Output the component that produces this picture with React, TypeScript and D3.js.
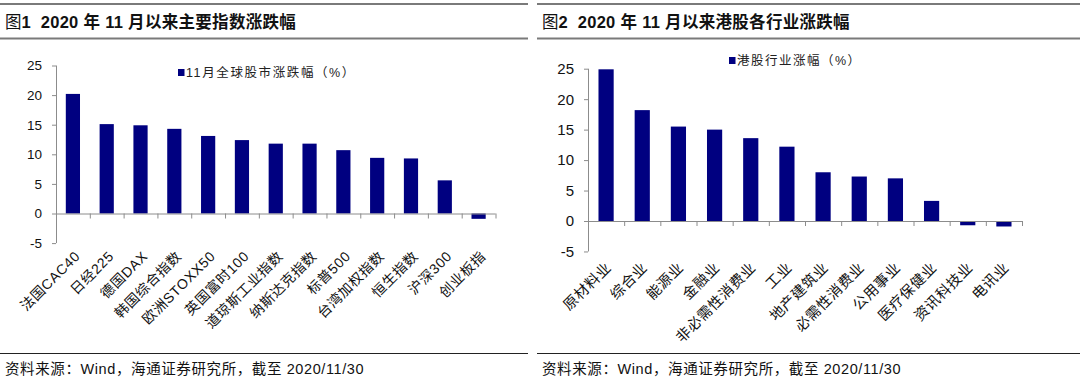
import React from "react";
import * as d3 from "d3";

const leftCategories = ["法国CAC40", "日经225", "德国DAX", "韩国综合指数", "欧洲STOXX50", "英国富时100", "道琼斯工业指数", "纳斯达克指数", "标普500", "台湾加权指数", "恒生指数", "沪深300", "创业板指"];
const leftValues = [20.2, 15.1, 14.9, 14.3, 13.1, 12.4, 11.8, 11.8, 10.7, 9.4, 9.3, 5.6, -0.9];
const rightCategories = ["原材料业", "综合业", "能源业", "金融业", "非必需性消费业", "工业", "地产建筑业", "必需性消费业", "公用事业", "医疗保健业", "资讯科技业", "电讯业"];
const rightValues = [24.9, 18.2, 15.5, 15.0, 13.6, 12.2, 8.0, 7.3, 7.0, 3.3, -0.7, -0.9];
const yTicks = [-5, 0, 5, 10, 15, 20, 25];

const leftTitle = "2020 年 11 月以来主要指数涨跌幅";
const rightTitle = "2020 年 11 月以来港股各行业涨跌幅";
const leftLegend = "11月全球股市涨跌幅（%）";
const rightLegend = "港股行业涨幅（%）";
const source = "资料来源：Wind，海通证券研究所，截至 2020/11/30";

const FONT = "'Liberation Sans', 'Noto Sans CJK SC', sans-serif";
const BAR = "#000080";
const AXIS = "#8c8c8c";

type PanelProps = {
  ox: number;
  panelW: number;
  figNo: string;
  title: string;
  legend: string;
  legendX: number;
  legendY: number;
  legendSpacing: number;
  cats: string[];
  vals: number[];
  x0: number;
  x1: number;
  yTop: number;
  yZero: number;
  tickFont: number;
  catFont: number;
  labelDx: number;
  labelDy: number;
};

function Panel(p: PanelProps) {
  const y = d3.scaleLinear().domain([0, 25]).range([p.yZero, p.yTop]);
  const x = d3.scaleBand().domain(p.cats).range([p.x0, p.x1]).paddingInner(0.58).paddingOuter(0.29);
  const step = (p.x1 - p.x0) / p.cats.length;
  const bounds = d3.range(p.cats.length + 1).map((i) => p.x0 + i * step);
  const yBottom = y(-5);
  return (
    <g>
      {/* header */}
      <line x1={p.ox} x2={p.ox + p.panelW} y1={4} y2={4} stroke="#7a7a7a" strokeWidth={2} />
      <line x1={p.ox} x2={p.ox + p.panelW} y1={38.5} y2={38.5} stroke="#7a7a7a" strokeWidth={2} />
      <text x={p.ox + 5} y={28} fontFamily={FONT} fontSize={16.5} fontWeight="bold" fill="#111">
        <tspan fontWeight="normal">图</tspan>
        <tspan>{p.figNo}</tspan>
        <tspan dx={10} letterSpacing={0.3}>{p.title}</tspan>
      </text>
      {/* legend */}
      <rect x={p.legendX} y={p.legendY - 8} width={6.5} height={7} fill={BAR} />
      <text x={p.legendX + 8} y={p.legendY} fontFamily={FONT} fontSize={12.5} fill="#222" letterSpacing={p.legendSpacing}>
        {p.legend}
      </text>
      {/* bars */}
      {p.vals.map((v, i) => (
        <rect
          key={i}
          x={x(p.cats[i])!}
          y={y(Math.max(0, v))}
          width={x.bandwidth()}
          height={Math.abs(y(v) - y(0))}
          fill={BAR}
        />
      ))}
      {/* y axis */}
      <line x1={p.x0 + 0.5} x2={p.x0 + 0.5} y1={y(25)} y2={yBottom} stroke={AXIS} />
      {yTicks.map((t) => (
        <g key={t}>
          <line x1={p.x0 - 4} x2={p.x0} y1={y(t) + 0.5} y2={y(t) + 0.5} stroke={AXIS} />
          <text x={p.x0 - 14} y={y(t)} dy="0.36em" textAnchor="end" fontFamily={FONT} fontSize={p.tickFont} fill="#111">
            {t}
          </text>
        </g>
      ))}
      {/* x axis */}
      <line x1={p.x0} x2={p.x1} y1={y(0) + 0.5} y2={y(0) + 0.5} stroke={AXIS} />
      {bounds.map((b, i) => (
        <line key={i} x1={b + 0.5} x2={b + 0.5} y1={y(0)} y2={y(0) + 5} stroke={AXIS} />
      ))}
      {p.cats.map((c, i) => {
        const cx = x(c)! + x.bandwidth() / 2;
        return (
          <text
            key={c}
            transform={`translate(${cx + p.labelDx},${yBottom + p.labelDy}) rotate(-45)`}
            textAnchor="end"
            fontFamily={FONT}
            fontSize={p.catFont}
            letterSpacing={0.6}
            fill="#111"
          >
            {c}
          </text>
        );
      })}
      {/* footer */}
      <line x1={p.ox} x2={p.ox + p.panelW} y1={353.5} y2={353.5} stroke="#222" strokeWidth={1} />
      <text x={p.ox + 5} y={374} fontFamily={FONT} fontSize={14.5} letterSpacing={0.6} fill="#111">
        {source}
      </text>
    </g>
  );
}

export default function App() {
  return (
    <svg width={1080} height={381} style={{ position: "absolute", left: 0, top: 0, background: "#fff" }}>
      <rect width={1080} height={381} fill="#fff" />
      <Panel
        ox={0}
        panelW={528}
        figNo="1"
        title={leftTitle}
        legend={leftLegend}
        legendX={178}
        legendY={77}
        legendSpacing={1.6}
        cats={leftCategories}
        vals={leftValues}
        x0={56}
        x1={495.5}
        yTop={65.5}
        yZero={213.5}
        tickFont={13.5}
        catFont={14}
        labelDx={8}
        labelDy={14}
      />
      <Panel
        ox={537}
        panelW={543}
        figNo="2"
        title={rightTitle}
        legend={rightLegend}
        legendX={729}
        legendY={65}
        legendSpacing={1.5}
        cats={rightCategories}
        vals={rightValues}
        x0={588}
        x1={1022}
        yTop={68.7}
        yZero={221}
        tickFont={15}
        catFont={14.5}
        labelDx={6}
        labelDy={17}
      />
    </svg>
  );
}
